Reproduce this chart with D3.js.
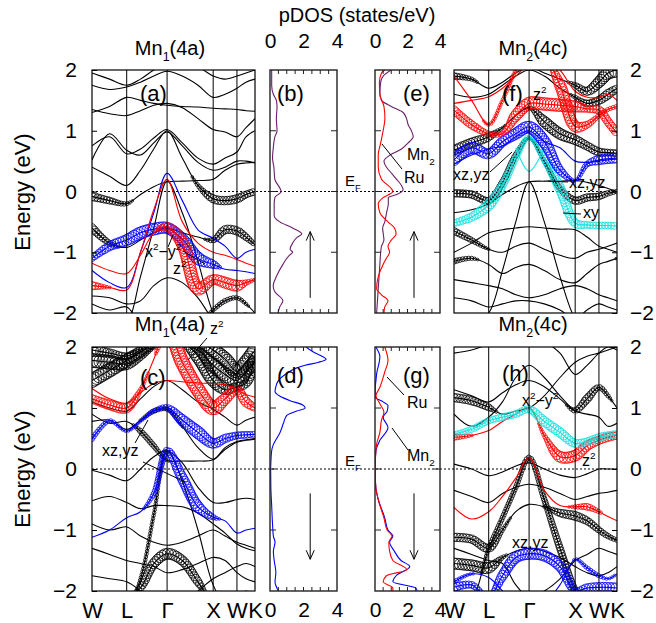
<!DOCTYPE html>
<html>
<head>
<meta charset="utf-8">
<script src="https://cdn.jsdelivr.net/npm/d3@7"></script>
<style>
body { margin: 0; background: #fff; }
text { font-family: "Liberation Sans", Arial, Helvetica, sans-serif; fill: #000; }
</style>
</head>
<body>
<script>
// k-path and shared grids
var kTicks = [0, 0.73, 1.58, 2.55, 3.05, 3.43];
var kLabels = ["W", "L", "\u0393", "X", "W", "K"];
var kNodes = [0, 0.37, 0.73, 1.02, 1.30, 1.58, 1.90, 2.23, 2.55, 2.80, 3.05, 3.24, 3.43];
var energyTicks = [-2, -1, 0, 1, 2];
var dosTicks = [0, 2, 4];

// (a) Mn1(4a) spin up
var bandsA = [
  [1.95, 1.85, 1.75, 1.85, 2.0, 2.1, 2.1, 2.05, 1.9, 1.85, 1.9, 1.95, 2.0],
  [1.75, 1.68, 1.72, 1.8, 1.9, 1.98, 1.9, 1.75, 1.55, 1.6, 1.7, 1.8, 1.85],
  [1.35, 1.28, 1.25, 1.33, 1.42, 1.45, 1.38, 1.2, 1.02, 0.98, 0.9, 1.05, 1.2],
  [1.3, 1.4, 1.55, 1.5, 1.45, 1.42, 1.4, 1.39, 1.37, 1.36, 1.35, 1.33, 1.32],
  [0.75, 0.9, 0.62, 0.7, 0.88, 1.02, 0.8, 0.55, 0.45, 0.55, 0.65, 0.9, 1.0],
  [0.52, 0.95, 0.68, 0.6, 0.8, 0.98, 0.75, 0.48, 0.35, 0.4, 0.5, 0.5, 0.47],
  [-0.08, -0.15, -0.2, -0.05, 0.08, 0.16, 0.17, 0.18, 0.2, 0.35, 0.45, 0.47, 0.48],
  [0.4, 0.25, 0.1, 0.35, 0.7, 1.0, 0.55, 0.1, -0.12, -0.15, -0.12, -0.05, 0.0],
  [-0.6, -0.85, -0.92, -0.8, -0.68, -0.6, -0.68, -0.75, -0.8, -0.63, -0.65, -0.75, -0.88],
  [-1.72, -1.75, -1.85, -1.8, -1.55, -1.42, -1.5, -1.75, -2.1, -2.2, -2.05, -2.0, -2.1],
  [-1.85, -1.95, -1.9, -2.2, -2.4, -2.5, -2.4, -2.2, -1.95, -1.8, -1.75, -1.85, -2.0],
  [-2.6, -2.4, -2.2, -1.4, -0.6, 0.17, -0.35, -1.15, -2.0, -2.3, -2.2, -2.1, -2.0]
];
var weightsA = [
  null, null, null, null, null, null,
  [0.6, 0.5, 0.3, 0, 0, 0, 0, 0, 0, 0, 0, 0, 0],
  [0, 0, 0, 0, 0, 0, 0, 0.3, 0.6, 0.6, 0.6, 0.5, 0.5],
  [0.6, 0.4, 0, 0, 0, 0, 0, 0, 0.4, 0.6, 0.6, 0.5, 0.3],
  null,
  [0, 0, 0, 0, 0, 0, 0, 0, 0.3, 0.35, 0.3, 0.25, 0],
  null
];
var blueA = [
  [-1.3, -1.5, -1.58, -1.0, -0.35, 0.3, -0.15, -0.63, -0.77, -0.9, -1.1, -1.0, -0.95],
  [-1.1, -0.9, -0.8, -0.68, -0.62, -0.6, -0.78, -1.1, -1.2, -1.28, -1.3, -1.32, -1.35]
];
var blueWA = [null, [0.45, 0.65, 0.8, 0.85, 0.85, 0.8, 0.8, 0.9, 0.6, 0, 0, 0, 0]];
var redA = [
  [-1.55, -1.58, -1.62, -1.0, -0.3, 0.2, -0.5, -0.85, -1.0, -1.05, -1.12, -1.18, -1.23],
  [-1.18, -1.3, -1.35, -1.05, -0.68, -0.58, -0.85, -1.6, -1.45, -1.5, -1.55, -1.5, -1.45]
];
var redWA = [
  [0.6, 0.2, 0, 0, 0, 0, 0, 0, 0, 0, 0, 0, 0],
  [0, 0, 0, 0, 0.15, 0.6, 0.9, 0.9, 0.7, 0.8, 0.8, 0.4, 0.2]
];

// (c) Mn1(4a) spin down
var bandsC = [
  [1.45, 1.62, 1.78, 1.92, 2.05, 2.2, 2.2, 2.1, 1.95, 1.8, 1.6, 1.75, 1.95],
  [1.78, 1.75, 1.72, 1.85, 2.0, 2.1, 2.05, 1.95, 1.7, 1.55, 1.45, 1.6, 1.75],
  [1.95, 1.9, 1.85, 1.95, 2.1, 2.2, 2.1, 1.85, 1.45, 1.3, 1.35, 1.4, 1.85],
  [1.1, 1.0, 0.95, 1.15, 1.35, 1.45, 1.3, 1.1, 0.98, 0.85, 0.72, 0.8, 0.85],
  [0.78, 0.8, 0.65, 0.8, 0.95, 0.98, 0.7, 0.35, 0.16, 0.35, 0.45, 0.48, 0.5],
  [0.9, 0.75, 0.78, 0.62, 0.38, 0.14, 0.13, 0.13, 0.15, 0.32, 0.44, 0.47, 0.49],
  [-0.02, -0.1, -0.19, 0.0, 0.2, 0.3, 0.1, -0.3, -0.55, -0.55, -0.5, -0.48, -0.5],
  [-0.52, -0.45, -0.55, -0.65, -0.6, -0.6, -0.62, -0.72, -0.9, -1.05, -1.23, -1.3, -1.34],
  [-0.9, -1.0, -0.95, -1.1, -1.2, -1.25, -1.2, -1.1, -1.0, -1.1, -1.2, -1.25, -1.3],
  [-1.3, -1.4, -1.5, -1.55, -1.6, -1.7, -1.65, -1.55, -1.45, -1.5, -1.7, -1.8, -1.85],
  [-2.3, -2.2, -2.1, -1.95, -1.55, -1.39, -1.5, -1.85, -2.2, -2.3, -2.2, -2.2, -2.2],
  [-2.6, -2.5, -2.3, -1.8, -0.75, 0.3, -0.2, -1.0, -1.9, -2.2, -2.1, -2.0, -2.1],
  [-1.75, -1.8, -1.85, -2.0, -2.2, -2.3, -2.2, -2.0, -1.8, -1.7, -1.6, -1.55, -1.6]
];
var weightsC = [
  [1, 1, 0.9, 0.8, 0.5, 0, 0, 0.6, 1, 1, 1, 1, 1],
  [1, 1, 0.8, 0.6, 0.3, 0, 0, 0.5, 1, 1, 1, 0.9, 1],
  [0.9, 0.6, 0.5, 0.3, 0, 0, 0.5, 1, 0.9, 0.7, 0.6, 0.6, 0.9],
  null,
  [0, 0, 0, 0.2, 0.35, 0.3, 0.2, 0, 0, 0, 0, 0, 0],
  [0, 0, 0, 0.4, 0.4, 0.2, 0, 0, 0, 0, 0, 0, 0],
  null, null, null, null,
  [0, 0, 0, 0.5, 0.7, 0.8, 0.7, 0.6, 0, 0, 0, 0, 0],
  [0, 0, 0, 0.25, 0.25, 0.2, 0, 0, 0, 0, 0, 0, 0],
  null
];
var redC = [
  [1.15, 1.05, 1.0, 1.3, 1.8, 2.3, 1.75, 1.3, 1.0, 1.15, 1.3, 1.1, 1.0],
  [1.32, 1.15, 1.08, 1.25, 1.4, 1.45, 1.43, 1.41, 1.4, 1.38, 1.3, 1.22, 1.18]
];
var redWC = [[0.6, 0.7, 0.7, 0.3, 0.1, 0.9, 1, 1, 1, 0.8, 0.6, 0.7, 0.5], null];
var blueC = [
  [0.49, 0.79, 0.62, 0.78, 0.95, 1.01, 0.8, 0.6, 0.42, 0.5, 0.55, 0.56, 0.57],
  [-1.12, -1.0, -0.8, -0.7, -0.4, 0.3, -0.15, -0.62, -0.79, -0.85, -1.05, -1.0, -0.97]
];
var blueWC = [
  [0.35, 0.3, 0.2, 0.2, 0.3, 0.4, 0.8, 0.9, 0.7, 0.6, 0.5, 0.5, 0.4],
  [0, 0, 0, 0.15, 0.35, 0.5, 0.75, 0.8, 0.4, 0, 0, 0, 0]
];

// (f) Mn2(4c) spin up
var bandsF = [
  [1.9, 1.85, 1.7, 1.8, 1.95, 2.05, 1.95, 1.85, 1.75, 1.65, 1.8, 1.95, 2.0],
  [1.6, 1.55, 1.6, 1.75, 1.9, 2.0, 1.9, 1.7, 1.55, 1.45, 1.5, 1.6, 1.7],
  [0.68, 0.8, 0.9, 1.05, 1.25, 1.38, 1.15, 0.95, 0.85, 0.75, 0.65, 0.64, 0.63],
  [-0.03, -0.05, -0.15, 0.15, 0.6, 0.88, 0.5, 0.05, -0.15, -0.1, -0.08, -0.03, 0.0],
  [-0.35, -0.3, -0.2, -0.05, 0.08, 0.16, 0.17, 0.17, 0.18, 0.15, 0.1, 0.05, 0.0],
  [-2.4, -2.2, -2.0, -1.3, -0.5, 0.16, -0.5, -1.4, -2.1, -2.3, -2.2, -2.1, -2.0],
  [-1.0, -0.85, -0.68, -0.63, -0.6, -0.58, -0.6, -0.62, -0.63, -0.75, -0.9, -0.95, -1.0],
  [-0.65, -0.8, -0.95, -1.0, -0.9, -0.85, -0.95, -1.05, -1.1, -1.0, -0.95, -0.9, -0.85],
  [-1.15, -1.1, -1.2, -1.35, -1.25, -1.2, -1.3, -1.45, -1.5, -1.35, -1.2, -1.15, -1.1],
  [-1.45, -1.5, -1.55, -1.6, -1.7, -1.75, -1.7, -1.6, -1.55, -1.6, -1.7, -1.75, -1.8],
  [-1.75, -1.8, -1.9, -1.85, -1.8, -1.8, -1.85, -1.95, -2.1, -1.95, -1.85, -1.9, -1.95]
];
var weightsF = [
  [0.5, 0.3, 0, 0, 0, 0, 0, 0, 0.4, 0.6, 0.8, 0.9, 1],
  [0, 0, 0, 0, 0, 0, 0, 0, 0.3, 0.5, 0.6, 0.7, 0.5],
  [0.7, 0.7, 0.6, 0.2, 0.1, 0.2, 0.8, 0.8, 0.7, 0.6, 0.6, 0.5, 0.5],
  [0.55, 0.55, 0.5, 0.45, 0.4, 0.2, 0.3, 0.4, 0.55, 0.55, 0.5, 0.4, 0.3],
  null, null, null,
  [0.5, 0.4, 0.2, 0, 0, 0, 0, 0, 0, 0, 0, 0, 0],
  [0.4, 0.3, 0, 0, 0, 0, 0, 0, 0, 0, 0, 0, 0.2],
  null, null
];
var redF = [
  [1.34, 1.1, 0.95, 0.95, 1.25, 1.45, 1.44, 1.42, 1.4, 1.36, 1.34, 1.15, 0.96],
  [1.45, 1.5, 1.56, 1.7, 1.9, 2.1, 2.2, 1.75, 1.07, 1.1, 1.25, 1.35, 1.4],
  [1.9, 1.5, 1.1, 1.5, 2.0, 2.4, 2.4, 2.4, 2.4, 2.3, 2.2, 2.1, 2.0],
  [2.2, 2.1, 2.0, 2.1, 2.2, 2.3, 2.2, 2.0, 1.65, 1.55, 1.55, 1.6, 1.5]
];
var redWF = [
  [0.6, 0.6, 0.4, 0.3, 0.8, 0.9, 0.9, 0.9, 0.8, 0.5, 0.6, 0.6, 0.6],
  [0, 0, 0, 0, 0, 0, 0, 0.8, 0.8, 0.5, 0.3, 0.3, 0.3],
  [0, 0, 0.25, 0.25, 0.25, 0, 0, 0, 0, 0, 0, 0, 0],
  null
];
var blueF = [
  [0.52, 0.72, 0.62, 0.82, 0.95, 1.06, 0.82, 0.35, 0.18, 0.45, 0.52, 0.54, 0.55],
  [0.45, 0.6, 0.7, 0.75, 0.9, 1.0, 0.82, 0.72, 0.5, 0.48, 0.5, 0.52, 0.53]
];
var blueWF = [[0.8, 0.8, 0.7, 0.7, 0.8, 0.85, 0.85, 0.6, 0.2, 0.4, 0.7, 0.7, 0.7], null];
var cyanF = [
  [-0.52, -0.42, -0.22, 0.1, 0.55, 0.9, 0.55, 0.05, -0.52, -0.55, -0.56, -0.56, -0.57],
  [null, null, null, null, 0.72, 0.33, 0.72, null, null, null, null, null, null]
];
var cyanWF = [[0.5, 0.6, 0.8, 0.55, 0.45, 0.3, 0.55, 0.7, 0.6, 0.5, 0.5, 0.5, 0.5], null];

// (h) Mn2(4c) spin down
var bandsH = [
  [1.9, 1.95, 2.05, 2.15, 2.2, 2.25, 2.1, 1.9, 1.55, 1.7, 1.9, 2.0, 1.95],
  [1.3, 1.2, 1.1, 1.25, 1.38, 1.45, 1.35, 1.15, 0.96, 1.15, 1.34, 1.2, 1.0],
  [1.17, 1.12, 1.01, 0.9, 0.95, 1.0, 1.2, 1.5, 1.75, 1.85, 1.9, 1.95, 2.0],
  [0.08, 0.0, -0.11, -0.05, 0.05, 0.1, 0.0, -0.1, -0.14, -0.08, 0.0, 0.0, 0.0],
  [-0.35, -0.45, -0.55, -0.4, -0.3, -0.25, -0.3, -0.4, -0.5, -0.45, -0.4, -0.38, -0.35],
  [-2.5, -2.2, -1.3, -0.8, -0.3, 0.19, -0.5, -1.3, -2.0, -2.3, -2.2, -2.1, -2.1],
  [-1.12, -1.15, -1.3, -1.0, -0.7, -0.58, -0.62, -0.72, -0.77, -0.85, -1.0, -1.1, -1.17],
  [-1.55, -1.58, -1.62, -1.45, -1.35, -1.3, -1.35, -1.45, -1.6, -1.7, -1.75, -1.7, -1.6],
  [-1.3, -1.4, -1.5, -1.55, -1.9, -2.1, -2.0, -1.8, -1.5, -1.4, -1.3, -1.35, -1.4],
  [0.9, 0.7, 0.85, 1.1, 1.5, 1.7, 1.5, 1.2, 0.95, 0.9, 0.85, 0.7, 0.75]
];
var weightsH = [
  null,
  [0, 0, 0, 0, 0, 0, 0, 0, 0.4, 0.6, 0.4, 0.3, 0],
  [0.6, 0.6, 0.5, 0, 0, 0, 0, 0, 0, 0, 0, 0, 0],
  null, null,
  [0, 0, 0.3, 0.35, 0.35, 0.35, 0.4, 0.5, 0.5, 0, 0, 0, 0],
  [0.6, 0.6, 0.6, 0.3, 0.1, 0, 0.2, 0.55, 0.65, 0.55, 0.45, 0.4, 0.3],
  [0.8, 0.8, 0.8, 0.3, 0, 0, 0, 0, 0, 0, 0, 0, 0],
  null, null
];
var redH = [
  [0.52, 0.55, 0.63, 0.78, 0.9, 1.01, 0.55, 0.2, 0.22, 0.38, 0.47, 0.52, 0.55],
  [-0.63, -0.82, -0.7, -0.45, -0.15, 0.19, -0.35, -0.6, -0.62, -0.62, -0.7, -0.78, -0.85]
];
var redWH = [
  [0.45, 0.2, 0, 0, 0, 0, 0.3, 0.8, 0.8, 0.7, 0.6, 0.6, 0.55],
  [0, 0, 0, 0, 0, 0, 0, 0, 0.3, 0.5, 0.3, 0, 0]
];
var cyanH = [[0.57, 0.65, 0.79, 0.85, 0.9, 0.98, 0.78, 0.6, 0.42, 0.45, 0.52, 0.55, 0.57]];
var cyanWH = [[0.35, 0.45, 0.45, 0.5, 0.5, 0.5, 0.7, 0.7, 0.6, 0.55, 0.55, 0.55, 0.55]];
var blueH = [
  [-1.94, -1.9, -2.1, -1.75, -1.45, -1.39, -1.42, -1.6, -2.0, -1.95, -1.94, -1.94, -1.95],
  [-1.85, -1.72, -1.78, -2.0, -2.2, -2.3, -2.2, -1.9, -1.48, -1.62, -1.75, -1.8, -1.72]
];
var blueWH = [
  [0.6, 0.5, 0.3, 0.7, 0.8, 0.8, 0.8, 0.7, 0.5, 0.6, 0.7, 0.7, 0.7],
  [0.3, 0.2, 0, 0, 0, 0, 0, 0, 0.2, 0.3, 0.3, 0.2, 0.2]
];

// pDOS curves: energy grid + values (states/eV)
var dosEnergyB = [2.0, 1.75, 1.6, 1.5, 1.4, 1.2, 1.0, 0.9, 0.7, 0.55, 0.4, 0.2, 0.05, 0.0, -0.1, -0.2, -0.4, -0.5, -0.6, -0.7, -0.75, -0.85, -0.95, -1.0, -1.05, -1.2, -1.4, -1.55, -1.65, -1.8, -1.9, -2.0];
var dosMn1Up = [0.1, 0.1, 0.2, 0.38, 0.42, 0.38, 0.42, 0.29, 0.19, 0.15, 0.23, 0.29, 0.6, 0.67, 0.29, 0.25, 0.25, 0.58, 1.35, 1.9, 1.63, 1.35, 1.2, 1.35, 1.15, 0.77, 0.38, 0.19, 0.29, 0.77, 0.58, 0.48];
var dosEnergyMn2Up = [2.0, 1.9, 1.8, 1.6, 1.5, 1.4, 1.3, 1.2, 1.1, 1.0, 0.9, 0.8, 0.7, 0.6, 0.5, 0.4, 0.3, 0.2, 0.1, 0.03, -0.05, -0.1, -0.2, -0.35, -0.5, -0.6, -0.8, -0.9, -1.0, -1.2, -1.4, -1.6, -1.8, -2.0];
var dosMn2Up = [1.0, 0.5, 0.35, 0.3, 0.4, 1.0, 1.73, 1.94, 2.04, 2.24, 2.35, 2.04, 1.63, 0.92, 0.55, 0.71, 1.02, 1.33, 1.63, 1.73, 1.33, 0.82, 0.82, 0.71, 0.6, 0.47, 0.55, 0.4, 0.35, 0.3, 0.25, 0.2, 0.15, 0.1];
var dosEnergyRuUp = [2.0, 1.95, 1.8, 1.6, 1.4, 1.2, 1.0, 0.8, 0.6, 0.4, 0.2, 0.05, 0.0, -0.1, -0.2, -0.35, -0.5, -0.6, -0.7, -0.8, -0.9, -1.0, -1.1, -1.2, -1.4, -1.6, -1.7, -1.8, -1.9, -2.0];
var dosRuUp = [0.6, 0.4, 0.27, 0.3, 0.55, 0.61, 0.5, 0.35, 0.2, 0.2, 0.4, 1.0, 1.1, 0.5, 0.2, 0.3, 0.8, 1.2, 1.3, 1.0, 0.8, 0.9, 0.7, 0.5, 0.2, 0.1, 0.4, 0.8, 0.6, 0.55];
var dosEnergyD = [2.0, 1.95, 1.9, 1.85, 1.8, 1.75, 1.7, 1.65, 1.55, 1.45, 1.35, 1.27, 1.2, 1.12, 1.05, 1.0, 0.95, 0.88, 0.75, 0.6, 0.5, 0.4, 0.3, 0.1, 0.0, -0.3, -0.6, -0.9, -1.1, -1.2, -1.35, -1.5, -1.7, -1.85, -2.0];
var dosMn1Dn = [2.15, 2.4, 2.7, 3.1, 3.35, 2.9, 2.1, 1.55, 0.9, 0.5, 0.35, 0.3, 0.55, 1.2, 1.95, 2.1, 1.6, 1.0, 0.8, 0.6, 0.4, 0.2, 0.1, 0.05, 0.04, 0.05, 0.1, 0.15, 0.2, 0.3, 0.2, 0.25, 0.35, 0.3, 0.5];
var dosEnergyMn2Dn = [2.0, 1.84, 1.56, 1.18, 1.1, 1.04, 0.95, 0.85, 0.68, 0.47, 0.3, 0.0, -0.3, -0.5, -0.8, -1.0, -1.1, -1.2, -1.35, -1.5, -1.6, -1.75, -1.85, -1.95, -2.0];
var dosMn2Dn = [0.05, 0.3, 0.1, 0.0, 0.5, 0.8, 0.75, 0.5, 0.8, 0.3, 0.06, 0.0, 0.05, 0.2, 0.6, 0.8, 1.1, 0.9, 1.2, 1.6, 2.14, 1.3, 1.1, 2.5, 2.6];
var dosEnergyRuDn = [2.0, 1.78, 1.59, 1.34, 1.2, 1.07, 0.93, 0.8, 0.6, 0.41, 0.2, 0.0, -0.3, -0.5, -0.8, -1.0, -1.1, -1.2, -1.35, -1.5, -1.65, -1.75, -1.85, -1.95, -2.0];
var dosRuDn = [0.6, 0.8, 0.6, 0.3, 0.06, 0.3, 0.55, 0.4, 0.3, 0.1, 0.03, 0.0, 0.05, 0.2, 0.55, 0.75, 1.05, 0.85, 0.9, 1.1, 1.95, 0.7, 0.5, 1.1, 1.1];

var RED = "#ff0000", BLUE = "#0000ff", CYAN = "#16e0e0", PURPLE = "#6a1f68";
var maxR = 7;
var numFmt = d3.format("d");

var svg = d3.select("body").append("svg")
  .attr("width", 656)
  .attr("height", 623);

var rows = [{top: 70, bottom: 313}, {top: 347, bottom: 591}];
var bandX = [[92, 255], [454, 617]];
var dosX = [[270, 337], [375, 440]];
var clipCount = 0;

function clipGroup(x0, y0, x1, y1) {
  var id = "clip" + (clipCount++);
  svg.append("clipPath").attr("id", id)
    .append("rect").attr("x", x0).attr("y", y0).attr("width", x1 - x0).attr("height", y1 - y0);
  return svg.append("g").attr("clip-path", "url(#" + id + ")");
}

function drawSet(g, xk, y, bands, weights, color) {
  var line = d3.line()
    .defined(d => d[1] != null)
    .x(d => xk(d[0]))
    .y(d => y(d[1]))
    .curve(d3.curveCatmullRom.alpha(0.5));
  bands.forEach(function(b, i) {
    var pts = kNodes.map((k, j) => [k, b[j]]);
    var p = g.append("path")
      .attr("d", line(pts))
      .attr("fill", "none")
      .attr("stroke", color)
      .attr("stroke-width", 1.1);
    var w = weights && weights[i];
    if (!w) return;
    var wScale = d3.scaleLinear().domain(kNodes).range(w);
    var node = p.node();
    var len = node.getTotalLength();
    for (var s = 0; s <= len; s += 3) {
      var pt = node.getPointAtLength(s);
      var r = maxR * wScale(xk.invert(pt.x));
      if (r < 1.2) continue;
      g.append("circle")
        .attr("cx", pt.x).attr("cy", pt.y).attr("r", r)
        .attr("fill", "none").attr("stroke", color).attr("stroke-width", 0.8);
    }
  });
}

function bandPanel(col, row, sets) {
  var x0 = bandX[col][0], x1 = bandX[col][1];
  var r = rows[row];
  var xk = d3.scaleLinear().domain([0, 3.43]).range([x0, x1]);
  var y = d3.scaleLinear().domain([-2, 2]).range([r.bottom, r.top]);
  var g = clipGroup(x0, r.top, x1, r.bottom);
  sets.forEach(s => drawSet(g, xk, y, s[0], s[1], s[2]));
  // high symmetry lines
  svg.append("g").selectAll("line").data(kTicks.slice(1, 5)).join("line")
    .attr("x1", d => xk(d)).attr("x2", d => xk(d))
    .attr("y1", r.top).attr("y2", r.bottom)
    .attr("stroke", "#000").attr("stroke-width", 1);
  svg.append("rect")
    .attr("x", x0).attr("y", r.top).attr("width", x1 - x0).attr("height", r.bottom - r.top)
    .attr("fill", "none").attr("stroke", "#000").attr("stroke-width", 1.2);
  // energy axis
  var axis = col === 0 ? d3.axisLeft(y) : d3.axisRight(y);
  var ax = svg.append("g")
    .attr("transform", "translate(" + (col === 0 ? x0 : x1) + ",0)")
    .call(axis.tickValues(energyTicks).tickFormat(numFmt).tickSizeInner(-5).tickSizeOuter(0).tickPadding(col === 0 ? 15 : 13));
  ax.select(".domain").remove();
  ax.selectAll("text").attr("font-size", 21).attr("font-family", "Liberation Sans, Arial, sans-serif");
  ax.selectAll("line").attr("stroke", "#000");
  if (row === 1) {
    var bx = svg.append("g")
      .attr("transform", "translate(0," + r.bottom + ")")
      .call(d3.axisBottom(xk).tickValues(kTicks).tickFormat((d, i) => kLabels[i]).tickSize(0).tickPadding(11));
    bx.select(".domain").remove();
    bx.selectAll("text").attr("font-size", 22)
      .attr("font-family", (d, i) => i === 2 ? "Liberation Serif, Times New Roman, serif" : "Liberation Sans, Arial, sans-serif");
  }
  return {xk: xk, y: y};
}

function dosPanel(col, row, curves, arrowUp) {
  var x0 = dosX[col][0], x1 = dosX[col][1];
  var r = rows[row];
  var x = d3.scaleLinear().domain([0, 4]).range([x0, x1]);
  var y = d3.scaleLinear().domain([-2, 2]).range([r.bottom, r.top]);
  var g = clipGroup(x0, r.top, x1, r.bottom);
  curves.forEach(function(c) {
    var pts = c[0].map((e, i) => [c[1][i], e]);
    g.append("path")
      .attr("d", d3.line().x(d => x(d[0])).y(d => y(d[1])).curve(d3.curveMonotoneY)(pts))
      .attr("fill", "none").attr("stroke", c[2]).attr("stroke-width", 1.1);
  });
  svg.append("rect")
    .attr("x", x0).attr("y", r.top).attr("width", x1 - x0).attr("height", r.bottom - r.top)
    .attr("fill", "none").attr("stroke", "#222").attr("stroke-width", 1.4);
  // minor ticks every 0.5 on top and bottom, energy ticks on both sides
  var minor = d3.range(0.5, 4, 0.5);
  svg.append("g").selectAll("line").data(minor).join("line")
    .attr("x1", d => x(d)).attr("x2", d => x(d))
    .attr("y1", r.top).attr("y2", r.top + 4).attr("stroke", "#222");
  svg.append("g").selectAll("line").data(minor).join("line")
    .attr("x1", d => x(d)).attr("x2", d => x(d))
    .attr("y1", r.bottom).attr("y2", r.bottom - 4).attr("stroke", "#222");
  svg.append("g").selectAll("line").data([-1, 0, 1]).join("line")
    .attr("x1", x0).attr("x2", x0 + 6).attr("y1", d => y(d)).attr("y2", d => y(d)).attr("stroke", "#222");
  svg.append("g").selectAll("line").data([-1, 0, 1]).join("line")
    .attr("x1", x1).attr("x2", x1 - 6).attr("y1", d => y(d)).attr("y2", d => y(d)).attr("stroke", "#222");
  var ax;
  if (row === 0) {
    ax = svg.append("g").attr("transform", "translate(0," + r.top + ")")
      .call(d3.axisTop(x).tickValues(dosTicks).tickFormat(numFmt).tickSize(0).tickPadding(22));
  } else {
    ax = svg.append("g").attr("transform", "translate(0," + r.bottom + ")")
      .call(d3.axisBottom(x).tickValues(dosTicks).tickFormat(numFmt).tickSize(0).tickPadding(11));
  }
  ax.select(".domain").remove();
  ax.selectAll("text").attr("font-size", 21).attr("font-family", "Liberation Sans, Arial, sans-serif");
  // spin arrow
  var ax0 = x(2.4);
  var yTail = arrowUp ? y(-1.75) : y(-0.4);
  var yHead = arrowUp ? y(-0.66) : y(-1.48);
  var d = arrowUp ? 1 : -1;
  var ag = svg.append("g").attr("stroke", "#000").attr("stroke-width", 1);
  ag.append("line").attr("x1", ax0).attr("x2", ax0).attr("y1", yTail).attr("y2", yHead);
  ag.append("line").attr("x1", ax0 - 4).attr("x2", ax0).attr("y1", yHead + 9 * d).attr("y2", yHead);
  ag.append("line").attr("x1", ax0 + 4).attr("x2", ax0).attr("y1", yHead + 9 * d).attr("y2", yHead);
  return {x: x, y: y};
}

// Fermi level dotted lines
rows.forEach(function(r) {
  var y = d3.scaleLinear().domain([-2, 2]).range([r.bottom, r.top]);
  svg.append("line")
    .attr("x1", 92).attr("x2", 617).attr("y1", y(0)).attr("y2", y(0))
    .attr("stroke", "#000").attr("stroke-width", 1).attr("stroke-dasharray", "2,2");
});

bandPanel(0, 0, [[bandsA, weightsA, "#000"], [blueA, blueWA, BLUE], [redA, redWA, RED]]);
bandPanel(0, 1, [[bandsC, weightsC, "#000"], [redC, redWC, RED], [blueC, blueWC, BLUE]]);
bandPanel(1, 0, [[bandsF, weightsF, "#000"], [cyanF, cyanWF, CYAN], [blueF, blueWF, BLUE], [redF, redWF, RED]]);
bandPanel(1, 1, [[bandsH, weightsH, "#000"], [blueH, blueWH, BLUE], [redH, redWH, RED], [cyanH, cyanWH, CYAN]]);

dosPanel(0, 0, [[dosEnergyB, dosMn1Up, PURPLE]], true);
dosPanel(1, 0, [[dosEnergyMn2Up, dosMn2Up, PURPLE], [dosEnergyRuUp, dosRuUp, RED]], true);
dosPanel(0, 1, [[dosEnergyD, dosMn1Dn, BLUE]], false);
dosPanel(1, 1, [[dosEnergyMn2Dn, dosMn2Dn, BLUE], [dosEnergyRuDn, dosRuDn, RED]], false);

// text helpers
function rich(x, y, parts, size, anchor) {
  var t = svg.append("text").attr("x", x).attr("y", y)
    .attr("font-size", size).attr("text-anchor", anchor || "start");
  var shift = 0;
  parts.forEach(function(p) {
    var s = p[1] === "sup" ? -0.42 * size : p[1] === "sub" ? 0.3 * size : 0;
    t.append("tspan").attr("dy", s - shift)
      .attr("font-size", p[1] ? size * 0.62 : size).text(p[0]);
    shift = s;
  });
  return t;
}
function leader(x1, y1, x2, y2) {
  svg.append("line").attr("x1", x1).attr("y1", y1).attr("x2", x2).attr("y2", y2)
    .attr("stroke", "#000").attr("stroke-width", 1);
}

svg.append("text").attr("x", 357).attr("y", 22).attr("text-anchor", "middle")
  .attr("font-size", 20).text("pDOS (states/eV)");

rich(170, 55, [["Mn"], ["1", "sub"], ["(4a)"]], 20, "middle");
rich(533, 55, [["Mn"], ["2", "sub"], ["(4c)"]], 20, "middle");
rich(170, 331, [["Mn"], ["1", "sub"], ["(4a)"]], 20, "middle");
rich(533, 331, [["Mn"], ["2", "sub"], ["(4c)"]], 20, "middle");

[[30, 192], [30, 469]].forEach(function(p) {
  svg.append("text")
    .attr("transform", "translate(" + p[0] + "," + p[1] + ") rotate(-90)")
    .attr("text-anchor", "middle").attr("font-size", 22).text("Energy (eV)");
});

[["(a)", 140, 101], ["(b)", 277, 101], ["(e)", 403, 101], ["(f)", 502, 101],
 ["(c)", 140, 385], ["(d)", 277, 383], ["(g)", 403, 383], ["(h)", 502, 381]].forEach(function(l) {
  svg.append("text").attr("x", l[1]).attr("y", l[2]).attr("font-size", 22).text(l[0]);
});

rich(345, 186, [["E"], ["F", "sub"]], 15);
rich(345, 466, [["E"], ["F", "sub"]], 15);

// (e) and (g) labels
rich(407, 160, [["Mn"], ["2", "sub"]], 16);
svg.append("text").attr("x", 404).attr("y", 183).attr("font-size", 16).text("Ru");
leader(382, 144, 402, 169);
svg.append("text").attr("x", 407).attr("y", 408).attr("font-size", 16).text("Ru");
leader(387, 377, 404, 395);
rich(407, 461, [["Mn"], ["2", "sub"]], 16);
leader(392, 428, 408, 450);

// (a) orbital labels
rich(145, 257, [["x"], ["2", "sup"], ["\u2212y"], ["2", "sup"]], 16);
leader(168, 247, 173, 235);
leader(183, 251, 205, 264);
rich(173, 274, [["z"], ["2", "sup"]], 16);
// (c)
rich(210, 334, [["z"], ["2", "sup"]], 16);
leader(207, 338, 188, 360);
svg.append("text").attr("x", 102).attr("y", 456).attr("font-size", 16).text("xz,yz");
leader(135, 443, 148, 420);
leader(143, 462, 185, 482);
// (f)
rich(533, 100, [["z"], ["2", "sup"]], 16);
svg.append("text").attr("x", 453).attr("y", 180).attr("font-size", 16).text("xz,yz");
leader(490, 172, 512, 152);
svg.append("text").attr("x", 569).attr("y", 188).attr("font-size", 16).text("xz,yz");
leader(548, 181, 568, 182);
svg.append("text").attr("x", 583).attr("y", 218).attr("font-size", 16).text("xy");
leader(563, 213, 581, 214);
// (h)
rich(522, 406, [["x"], ["2", "sup"], ["\u2212y"], ["2", "sup"]], 16);
rich(582, 466, [["z"], ["2", "sup"]], 16);
svg.append("text").attr("x", 512).attr("y", 548).attr("font-size", 16).text("xz,yz");
</script>
</body>
</html>
